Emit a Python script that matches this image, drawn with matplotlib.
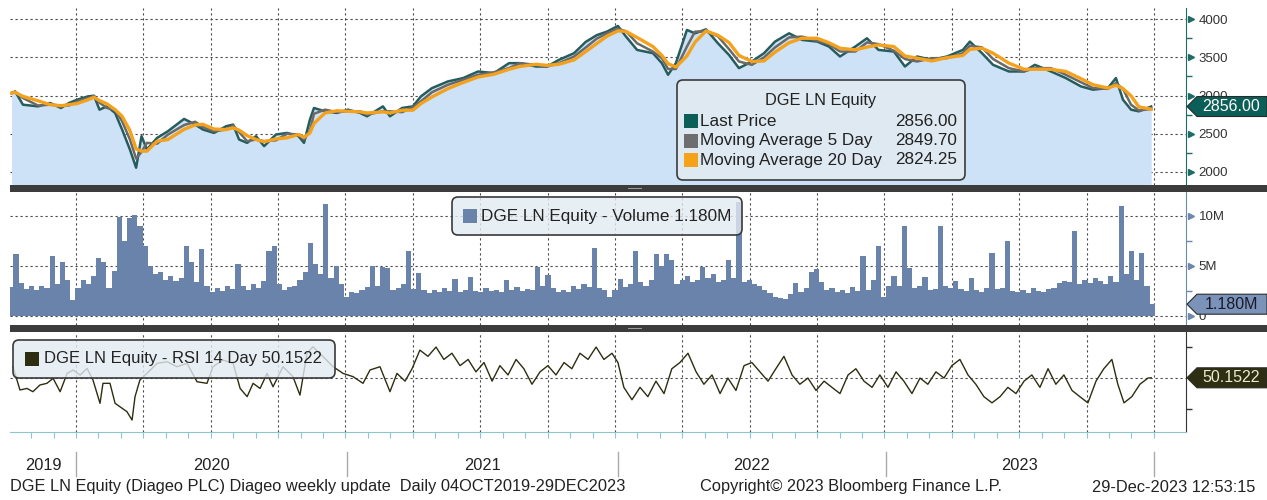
import matplotlib
matplotlib.use('Agg')
import matplotlib.pyplot as plt
import matplotlib.transforms as mtrans
from matplotlib.patches import FancyBboxPatch, Rectangle, Polygon
import numpy as np
import pandas as pd

plt.rcParams['font.family'] = ['Liberation Sans', 'DejaVu Sans']

# ---- data (x in decimal years) ----
price_x = [2019.761, 2019.774, 2019.803, 2019.859, 2019.904, 2019.944, 2019.974, 2020.004, 2020.045, 2020.067,
           2020.087, 2020.115, 2020.145, 2020.171, 2020.200, 2020.223, 2020.243, 2020.263, 2020.301, 2020.341,
           2020.401, 2020.442, 2020.471, 2020.512, 2020.557, 2020.583, 2020.605, 2020.635, 2020.668, 2020.698,
           2020.742, 2020.783, 2020.826, 2020.846, 2020.868, 2020.883, 2020.924, 2020.968, 2021.009, 2021.054,
           2021.080, 2021.139, 2021.165, 2021.210, 2021.250, 2021.280, 2021.321, 2021.380, 2021.436, 2021.492,
           2021.551, 2021.607, 2021.647, 2021.707, 2021.748, 2021.792, 2021.848, 2021.891, 2021.933, 2021.970,
           2022.011, 2022.041, 2022.082, 2022.141, 2022.174, 2022.197, 2022.226, 2022.267, 2022.297, 2022.338,
           2022.382, 2022.423, 2022.460, 2022.508, 2022.553, 2022.594, 2022.646, 2022.694, 2022.750, 2022.794,
           2022.835, 2022.892, 2022.935, 2022.978, 2023.035, 2023.076, 2023.121, 2023.176, 2023.232, 2023.291,
           2023.317, 2023.362, 2023.403, 2023.462, 2023.518, 2023.558, 2023.618, 2023.673, 2023.729, 2023.774,
           2023.829, 2023.859, 2023.885, 2023.915, 2023.944, 2023.990]
price = [3032, 3054, 2880, 2858, 2902, 2837, 2902, 2945, 2989, 2997,
         2815, 2858, 2772, 2555, 2294, 2056, 2468, 2294, 2446, 2533,
         2694, 2620, 2555, 2511, 2598, 2620, 2425, 2381, 2468, 2338,
         2490, 2511, 2468, 2381, 2685, 2837, 2793, 2772, 2815, 2772,
         2728, 2858, 2728, 2837, 2858, 2989, 3097, 3184, 3227, 3314,
         3293, 3423, 3423, 3379, 3379, 3466, 3553, 3700, 3790, 3835,
         3909, 3770, 3596, 3553, 3423, 3271, 3423, 3857, 3813, 3865,
         3683, 3531, 3358, 3444, 3553, 3705, 3813, 3727, 3705, 3640,
         3510, 3640, 3748, 3596, 3575, 3379, 3510, 3466, 3510, 3596,
         3705, 3553, 3401, 3314, 3314, 3401, 3314, 3228, 3119, 3076,
         3097, 3228, 2946, 2815, 2793, 2856]

# weekly volume, millions of shares, from 04 Oct 2019
volume = [2.9, 6.2, 3.3, 2.7, 3.0, 2.6, 3.0, 2.8, 6.0, 3.2,
          5.4, 3.6, 1.6, 2.8, 3.6, 3.2, 4.0, 5.8, 5.4, 2.8,
          4.5, 9.9, 7.5, 9.8, 10.1, 9.0, 7.0, 5.0, 4.2, 4.4,
          3.6, 4.0, 3.5, 3.8, 7.0, 5.4, 3.4, 6.7, 3.0, 2.4,
          2.8, 2.5, 3.0, 2.7, 5.2, 3.0, 2.6, 3.2, 2.8, 3.5,
          6.5, 7.0, 3.2, 2.6, 2.9, 3.0, 3.6, 4.4, 7.3, 5.2,
          4.2, 11.2, 3.8, 5.0, 3.2, 1.9, 2.4, 2.3, 2.6, 2.9,
          5.0, 3.0, 4.9, 4.8, 2.6, 2.8, 3.2, 6.5, 2.7, 4.3,
          2.6, 2.3, 2.6, 2.4, 2.8, 2.5, 3.7, 2.4, 2.6, 3.9,
          2.5, 2.4, 2.8, 2.5, 2.6, 2.4, 3.6, 2.6, 2.9, 2.5,
          2.7, 2.6, 4.9, 3.0, 4.1, 2.8, 2.4, 2.6, 2.4, 3.0,
          2.7, 3.2, 2.9, 6.8, 2.8, 2.6, 1.9, 2.6, 3.7, 2.9,
          3.2, 6.5, 3.4, 3.0, 3.6, 6.2, 5.0, 6.2, 5.6, 3.2,
          3.6, 4.0, 3.4, 3.6, 4.9, 3.8, 4.2, 3.4, 3.6, 5.6,
          3.8, 11.4, 3.4, 3.6, 3.2, 3.0, 2.6, 2.3, 1.9, 1.8,
          1.7, 2.2, 3.3, 2.4, 2.8, 4.4, 4.7, 3.4, 2.6, 2.8,
          2.4, 2.6, 2.3, 2.9, 2.5, 6.0, 2.6, 3.6, 7.0, 1.9,
          3.0, 4.0, 3.0, 9.0, 4.8, 2.8, 3.0, 3.9, 2.6, 2.7,
          9.0, 3.0, 2.8, 3.5, 2.7, 2.5, 3.8, 2.6, 2.4, 2.8,
          6.3, 2.7, 2.8, 7.5, 2.5, 2.4, 2.6, 2.3, 2.8, 2.5,
          2.4, 2.7, 2.8, 3.3, 3.5, 3.4, 8.5, 3.2, 3.6, 3.3,
          3.8, 3.5, 3.2, 4.0, 3.4, 11.0, 4.2, 6.5, 3.6, 6.3,
          3.0, 1.18]

rsi_x = [2019.766, 2019.792, 2019.818, 2019.840, 2019.866, 2019.892, 2019.915, 2019.941, 2019.967, 2019.989,
         2020.015, 2020.041, 2020.063, 2020.089, 2020.100, 2020.126, 2020.145, 2020.163, 2020.189, 2020.208,
         2020.219, 2020.237, 2020.263, 2020.301, 2020.338, 2020.375, 2020.412, 2020.449, 2020.486, 2020.508,
         2020.545, 2020.583, 2020.609, 2020.635, 2020.657, 2020.683, 2020.709, 2020.731, 2020.768, 2020.805,
         2020.831, 2020.857, 2020.879, 2020.917, 2020.954, 2020.991, 2021.028, 2021.065, 2021.091, 2021.128,
         2021.165, 2021.191, 2021.221, 2021.247, 2021.276, 2021.306, 2021.336, 2021.365, 2021.395, 2021.425,
         2021.455, 2021.484, 2021.514, 2021.544, 2021.573, 2021.603, 2021.633, 2021.662, 2021.692, 2021.722,
         2021.751, 2021.781, 2021.811, 2021.840, 2021.870, 2021.900, 2021.930, 2021.959, 2021.989, 2022.011,
         2022.033, 2022.063, 2022.093, 2022.122, 2022.152, 2022.182, 2022.211, 2022.241, 2022.271, 2022.301,
         2022.330, 2022.360, 2022.390, 2022.419, 2022.449, 2022.479, 2022.508, 2022.538, 2022.568, 2022.597,
         2022.627, 2022.657, 2022.686, 2022.716, 2022.746, 2022.776, 2022.805, 2022.835, 2022.865, 2022.894,
         2022.924, 2022.954, 2022.983, 2023.013, 2023.043, 2023.072, 2023.102, 2023.132, 2023.161, 2023.191,
         2023.221, 2023.250, 2023.280, 2023.310, 2023.339, 2023.369, 2023.399, 2023.429, 2023.458, 2023.488,
         2023.518, 2023.547, 2023.577, 2023.607, 2023.636, 2023.666, 2023.696, 2023.725, 2023.755, 2023.785,
         2023.814, 2023.844, 2023.866, 2023.889, 2023.918, 2023.948, 2023.978, 2023.990]
rsi = [57.3, 42.3, 43.3, 41.2, 45.5, 46.6, 49.8, 41.2, 53.0, 55.2,
       51.9, 56.2, 48.7, 33.7, 46.6, 46.6, 33.7, 31.5, 28.3, 22.9,
       38.0, 48.7, 53.0, 59.5, 60.5, 57.3, 59.5, 47.6, 46.6, 57.3,
       61.6, 59.5, 43.3, 38.0, 46.6, 43.3, 53.0, 44.4, 57.3, 50.9,
       39.0, 65.9, 70.2, 63.8, 57.3, 53.0, 50.9, 46.6, 55.2, 57.3,
       41.2, 53.0, 48, 56, 68, 64, 70, 62, 66, 58,
       62, 54, 60, 48, 58, 52, 62, 56, 46, 54,
       58, 52, 60, 56, 66, 62, 70, 62, 66, 60,
       44, 36, 44, 38, 48, 40, 56, 60, 66, 54,
       46, 52, 40, 50, 42, 58, 60, 54, 48, 56,
       64, 52, 46, 50, 42, 48, 44, 40, 52, 56,
       48, 44, 52, 44, 54, 48, 40, 50, 46, 54,
       50, 58, 62, 52, 46, 38, 34, 38, 44, 40,
       48, 52, 44, 56, 46, 52, 42, 38, 34, 48,
       56, 62, 46, 34, 38, 46, 50, 50.15]

price_ticks = [2000, 2500, 3000, 3500, 4000]
vol_ticks = [0, 5, 10]
vol_labels = ['0', '5M', '10M']
years = ['2019', '2020', '2021', '2022', '2023']

W, H = 1267, 500
PIX = mtrans.IdentityTransform()

def box(l, t, r, b):
    return [l / W, 1 - b / H, (r - l) / W, (b - t) / H]

fig = plt.figure(figsize=(W / 100, H / 100), dpi=100)
fig.patch.set_facecolor('white')

ax1 = fig.add_axes(box(10, 8, 1186, 185))
ax2 = fig.add_axes(box(10, 192, 1186, 325))
ax3 = fig.add_axes(box(10, 332, 1186, 432))

XL = (2019.755, 2024.119)
quarters = np.arange(2020.0, 2024.01, 0.25)
dot = dict(color='#4a4a4a', lw=0.8, ls=(0, (2, 2.5)))

teal = '#1f6b66'

# ---- price panel ----
ps = pd.Series(price, dtype=float)
ma5 = ps.rolling(2, min_periods=1).mean()
ma20 = ps.rolling(3, min_periods=1).mean()
ax1.fill_between(price_x, price, 1000, color='#cde2f6', lw=0)
ax1.plot(price_x, price, color='#275c5c', lw=1.8)
ax1.plot(price_x, ma5, color='#6a6a6a', lw=1.8)
ax1.plot(price_x, ma20, color='#f4a21e', lw=2.4)
ax1.set_ylim(1830, 4144)
for v in price_ticks:
    ax1.axhline(v, **dot, zorder=0.5)

# ---- volume panel ----
vx = 2019.758 + np.arange(len(volume)) * 7 / 365.25
ax2.bar(vx, volume, width=7 / 365.25, color='#6a83aa', lw=0, align='center')
ax2.set_ylim(-0.9, 12.4)
for v in vol_ticks:
    ax2.axhline(v, **dot, zorder=0.5)

# ---- RSI panel ----
ax3.plot(rsi_x, rsi, color='#2d2d10', lw=1.0)
ax3.set_ylim(15.2, 79.7)
ax3.axhline(50, **dot, zorder=0.5)

for ax in (ax1, ax2, ax3):
    ax.set_xlim(*XL)
    for q in quarters:
        ax.axvline(q, **dot, zorder=0.5)
    ax.spines['left'].set_visible(False)
    ax.spines['top'].set_visible(False)
    ax.spines['bottom'].set_visible(False)
    ax.tick_params(axis='x', which='both', bottom=False, labelbottom=False)
    ax.yaxis.tick_right()
    ax.tick_params(axis='y', which='major', length=0, pad=9, labelsize=9.5, labelcolor='#333333')
    ax.tick_params(axis='y', which='minor', length=4, width=1, direction='out')

ax1.spines['right'].set_color(teal)
ax1.set_yticks(price_ticks)
ax1.set_yticks([2250, 2750, 3250, 3750], minor=True)
ax1.tick_params(axis='y', which='minor', color=teal)
ax2.spines['right'].set_color('#7088aa')
ax2.set_yticks(vol_ticks)
ax2.set_yticklabels(vol_labels)
ax2.set_yticks([2.5, 7.5], minor=True)
ax2.tick_params(axis='y', which='minor', color='#7088aa')
ax3.spines['right'].set_color('#333333')
ax3.set_yticks([])
ax3.set_yticks([30, 70], minor=True)
ax3.tick_params(axis='y', which='minor', color='#333333')

# triangle markers on the major ticks
for ax, ticks, c in ((ax1, price_ticks, teal), (ax2, vol_ticks, '#7088aa')):
    tr = mtrans.blended_transform_factory(ax.transAxes, ax.transData)
    ax.plot([1.0045] * len(ticks), ticks, ls='none', marker='>', ms=5, color=c,
            transform=tr, clip_on=False)

# bottom time axis
ax3.spines['bottom'].set_visible(True)
ax3.spines['bottom'].set_color('#8cc8c8')
months = np.arange(2019 + 10 / 12, 2024.05, 1 / 12)
ax3.set_xticks(months)
ax3.tick_params(axis='x', which='major', bottom=True, length=4, color='#8cc8c8',
                direction='out', labelbottom=False)

# panel separators
for top in (185, 325):
    fig.add_artist(Rectangle((10, H - top - 7), W - 10, 7, transform=PIX,
                             color='#3c3c3c', lw=0))
    fig.add_artist(Rectangle((628, H - top - 4), 14, 1.5, transform=PIX,
                             color='#9a9a9a', lw=0))

# legends
def legend_box(l, t, r, b):
    fig.add_artist(FancyBboxPatch((l, H - b), r - l, b - t, transform=PIX,
                                  boxstyle='round,pad=0,rounding_size=6',
                                  fc=(0.89, 0.92, 0.95, 0.8), ec='#3a3a3a', lw=1.2))

def swatch(x, yc, c):
    fig.add_artist(Rectangle((x, H - yc - 7), 14, 14, transform=PIX, color=c, lw=0))

fs = 12.3
legend_box(677, 80, 965, 180)
fig.text(821, H - 101, 'DGE LN Equity', transform=PIX, ha='center', va='center', fontsize=11.8, color='#222222')
rows = [('Last Price', '2856.00', '#0e5e58'),
        ('Moving Average 5 Day', '2849.70', '#6e6e6e'),
        ('Moving Average 20 Day', '2824.25', '#f5a21b')]
for k, (lab, val, c) in enumerate(rows):
    yc = 121 + k * 19.5
    swatch(684, yc, c)
    fig.text(700, H - yc, lab, transform=PIX, ha='left', va='center', fontsize=fs, color='#222222')
    fig.text(957, H - yc, val, transform=PIX, ha='right', va='center', fontsize=fs, color='#222222')

legend_box(452, 197, 742, 235)
swatch(463, 216, '#6a83aa')
fig.text(481, H - 216, 'DGE LN Equity - Volume 1.180M', transform=PIX, ha='left', va='center',
         fontsize=fs, color='#222222')

legend_box(13, 340, 335, 378)
swatch(25, 359, '#2d2d10')
fig.text(44, H - 359, 'DGE LN Equity - RSI 14 Day 50.1522', transform=PIX, ha='left', va='center',
         fontsize=12, color='#222222')

# value tags on the right axis
def tag(ax, val, text, fc, tc):
    yc = ax.transData.transform((XL[0], val))[1]
    pts = [(1187, yc), (1197, yc - 10), (1267, yc - 10), (1267, yc + 10), (1197, yc + 10)]
    fig.add_artist(Polygon(pts, closed=True, transform=PIX, fc=fc, ec='#2a2a2a', lw=0.8))
    fig.text(1231, yc, text, transform=PIX, ha='center', va='center', fontsize=11.5, color=tc)

tag(ax1, 2856, '2856.00', '#0c5e58', 'white')
tag(ax2, 1.18, '1.180M', '#7b93b9', '#1a1a2a')
tag(ax3, 50.1522, '50.1522', '#2e2e12', '#ecebd0')

# year labels and footer
year_px = [76, 347, 618, 886, 1154]
for x in year_px:
    fig.add_artist(plt.Line2D([x, x], [H - 476, H - 452], transform=PIX, color='#aaaaaa', lw=1))
centers = [43, 211, 482, 752, 1020]
for x, y in zip(centers, years):
    fig.text(x, H - 465, y, transform=PIX, ha='center', va='center', fontsize=11.8, color='#222222')

fig.text(10, H - 487, 'DGE LN Equity (Diageo PLC) Diageo weekly update  Daily 04OCT2019-29DEC2023',
         transform=PIX, ha='left', va='center', fontsize=11.8, color='#222222')
fig.text(700, H - 487, 'Copyright\u00a9 2023 Bloomberg Finance L.P.', transform=PIX,
         ha='left', va='center', fontsize=11.8, color='#222222')
fig.text(1255, H - 487, '29-Dec-2023 12:53:15', transform=PIX, ha='right', va='center',
         fontsize=11.8, color='#222222')

fig.savefig('out.png', dpi=100)
